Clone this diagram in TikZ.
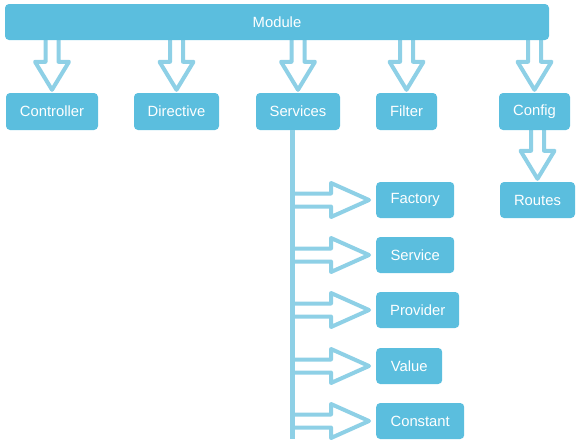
\documentclass[tikz,border=0pt]{standalone}
\usepackage{fontspec}
\setmainfont{Liberation Sans}
\usetikzlibrary{calc}
\pgfdeclarelayer{background}
\pgfsetlayers{background,main}
\definecolor{boxblue}{RGB}{91,190,222}
\definecolor{arrowblue}{RGB}{142,208,230}
\tikzset{
  box/.style={fill=boxblue, rounded corners=4pt, text=white, inner sep=0pt,
    minimum height=36pt, font=\fontsize{14.8}{17}\selectfont},
  headlen/.store in=\headlen, headlen=28pt,
  tipgap/.store in=\tipgap, tipgap=3pt,
  hollow/.style={draw=arrowblue, fill=white, line width=4pt, line join=round,
    to path={let \p1=($(\tikztotarget)!\tipgap!(\tikztostart)$),
      \p2=($(\tikztotarget)!\tipgap+\headlen!(\tikztostart)$) in
      ($(\tikztostart)!6.5pt!90:(\tikztotarget)$)
      -- ($(\p2)!6.5pt!90:(\p1)$)
      -- ($(\p2)!17pt!90:(\p1)$)
      -- (\p1)
      -- ($(\p2)!17pt!-90:(\p1)$)
      -- ($(\p2)!6.5pt!-90:(\p1)$)
      -- ($(\tikztostart)!6.5pt!-90:(\tikztotarget)$)
      -- cycle}},
  trunk/.style={draw=arrowblue, line width=5pt}
}
\begin{document}
\begin{tikzpicture}[x=1pt,y=-1pt]
  \useasboundingbox (0,0) rectangle (580,447);

  % Top bar
  \node[box, minimum width=544pt] (module) at (277,22) {Module};

  % Second row
  \node[box, minimum width=92pt, minimum height=37pt] (controller) at (52,111.5) {Controller};
  \node[box, minimum width=85pt, minimum height=37pt] (directive) at (176.5,111.5) {Directive};
  \node[box, minimum width=84pt, minimum height=37pt] (services) at (298,111.5) {Services};
  \node[box, minimum width=61pt, minimum height=37pt] (filter) at (406.5,111.5) {Filter};
  \node[box, minimum width=71pt, minimum height=37pt] (config) at (534.5,111.5) {Config};
  \node[box, minimum width=75pt] (routes) at (537.5,200) {Routes};

  % Services column
  \node[box, anchor=west, minimum width=78pt] (factory) at (376,200) {Factory};
  \node[box, anchor=west, minimum width=78pt] (service) at (376,255) {Service};
  \node[box, anchor=west, minimum width=83pt] (provider) at (376,310) {Provider};
  \node[box, anchor=west, minimum width=66pt] (value) at (376,366) {Value};
  \node[box, anchor=west, minimum width=88pt] (constant) at (376,421) {Constant};

  % Trunk line below Services
  \coordinate (trunktop) at (292,130);
  \coordinate (trunkbot) at (292,439);
  \draw[trunk] (trunktop) -- (trunkbot);

  % Hollow arrows
  \begin{pgfonlayer}{background}
    \draw[hollow] (module -| controller) to (controller.north);
    \draw[hollow] (module -| directive) to (directive.north);
    \draw[hollow] (module -| services) to (services.north);
    \draw[hollow] (module -| filter) to (filter.north);
    \draw[hollow] (module -| config) to (config.north);
    \draw[hollow] (config -| routes) to (routes.north);
    \draw[hollow, headlen=38pt, tipgap=7pt] (factory -| trunktop) to (factory.west);
    \draw[hollow, headlen=38pt, tipgap=7pt] (service -| trunktop) to (service.west);
    \draw[hollow, headlen=38pt, tipgap=7pt] (provider -| trunktop) to (provider.west);
    \draw[hollow, headlen=38pt, tipgap=7pt] (value -| trunktop) to (value.west);
    \draw[hollow, headlen=38pt, tipgap=7pt] (constant -| trunktop) to (constant.west);
  \end{pgfonlayer}
\end{tikzpicture}
\end{document}
